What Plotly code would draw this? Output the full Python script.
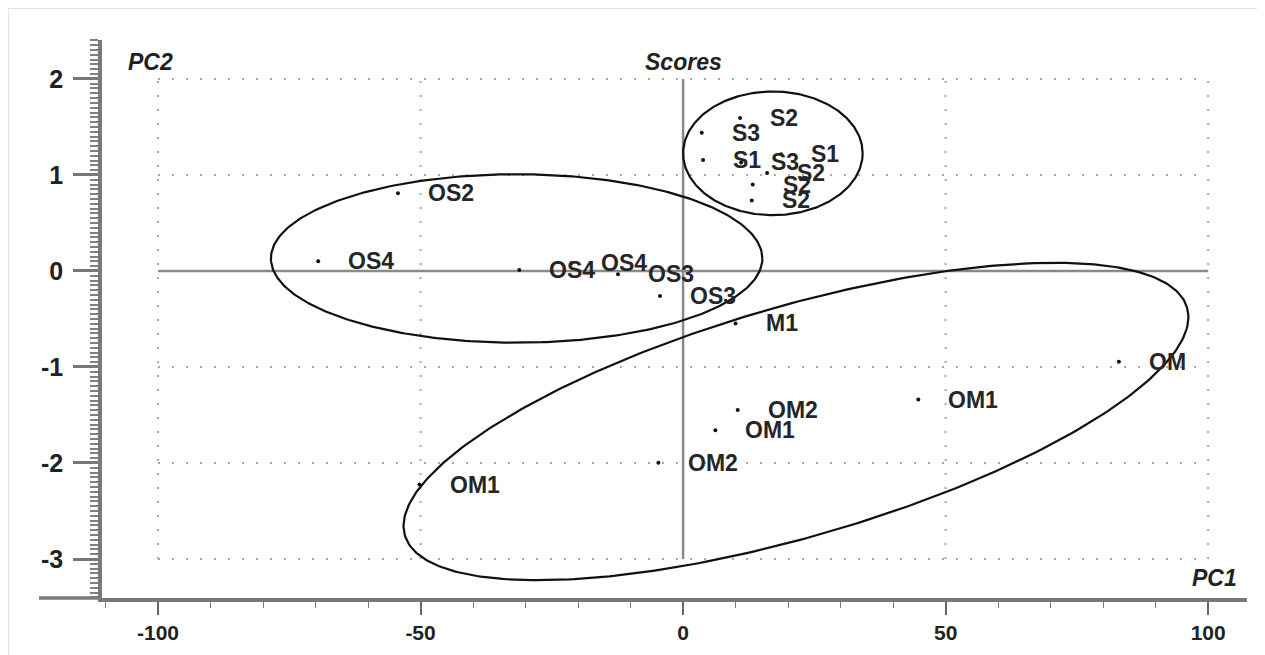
import numpy as np
import plotly.graph_objects as go

# ---- data (scores) ----
labels = ["OS2", "OS4", "OS4", "OS4", "OS3", "OS3", "M1", "OM", "OM1", "OM2",
          "OM1", "OM2", "OM1", "S3", "S1", "S2", "S2", "S2", "S2", "S1", "S3"]
pc1 = [-54.3, -69.5, -31.2, -21.3, -12.4, -4.4, 10.0, 83.0, 44.8, 10.4,
       6.15, -4.7, -50.2, 3.56, 3.81, 10.86, 16.0, 13.27, 13.08, 18.67, 11.05]
pc2 = [0.81, 0.10, 0.01, 0.08, -0.035, -0.26, -0.547, -0.945, -1.34, -1.447,
       -1.66, -1.997, -2.225, 1.44, 1.155, 1.592, 1.021, 0.90, 0.734, 1.215, 1.13]

# group ellipses: centre and two conjugate semi-axis vectors (data units)
ell_cx = [-31.7, 17.1, 21.5]
ell_cy = [0.13, 1.225, -1.568]
ell_ux = [46.8, 17.1, 74.5]
ell_uy = [0.0, 0.0, 1.184]
ell_vx = [0.0, 0.0, -6.0]
ell_vy = [0.877, 0.644, 1.153]

# axis ticks
x_ticks = [-100, -50, 0, 50, 100]
x_ticktext = ["-100", "-50", "0", "50", "100"]
y_ticks = [-3, -2, -1, 0, 1, 2]
y_ticktext = ["-3", "-2", "-1", "0", "1", "2"]

X_RANGE = [-110.67, 107.4]
Y_RANGE = [-3.406, 2.405]

fig = go.Figure()

# dotted grid (only inside the tick span)
grid_col = "#a8a8a8"
for xv in x_ticks:
    if xv != 0:
        fig.add_shape(type="line", x0=xv, x1=xv, y0=min(y_ticks), y1=max(y_ticks),
                      line=dict(color=grid_col, width=2, dash="2px,12px"), layer="below")
for yv in y_ticks:
    if yv != 0:
        fig.add_shape(type="line", x0=min(x_ticks), x1=max(x_ticks), y0=yv, y1=yv,
                      line=dict(color=grid_col, width=2, dash="2px,12px"), layer="below")
# zero lines
fig.add_shape(type="line", x0=0, x1=0, y0=min(y_ticks), y1=max(y_ticks),
              line=dict(color="#8a8a8a", width=2.5), layer="below")
fig.add_shape(type="line", x0=min(x_ticks), x1=max(x_ticks), y0=0, y1=0,
              line=dict(color="#8a8a8a", width=2.5), layer="below")

# ellipses
t = np.linspace(0, 2 * np.pi, 361)
for cx, cy, ux, uy, vx, vy in zip(ell_cx, ell_cy, ell_ux, ell_uy, ell_vx, ell_vy):
    ex = cx + ux * np.cos(t) + vx * np.sin(t)
    ey = cy + uy * np.cos(t) + vy * np.sin(t)
    fig.add_trace(go.Scatter(x=ex, y=ey, mode="lines",
                             line=dict(color="#111111", width=2.2),
                             hoverinfo="skip", showlegend=False))

# points
fig.add_trace(go.Scatter(x=pc1, y=pc2, mode="markers", text=labels,
                         marker=dict(color="#111111", size=4),
                         showlegend=False))

# point labels
for xv, yv, lab in zip(pc1, pc2, labels):
    fig.add_annotation(x=xv, y=yv, text=lab, showarrow=False, xanchor="left",
                       yanchor="middle", xshift=28,
                       font=dict(family="Liberation Sans, Arial", size=23,
                                 color="#262626", weight="bold"))

# axis titles
title_font = dict(family="Liberation Sans, Arial", size=23, color="#222222",
                  style="italic", weight="bold")
fig.add_annotation(x=0, y=2.18, text="Scores", showarrow=False, font=title_font,
                   xanchor="center", yanchor="middle")
fig.add_annotation(x=-101.5, y=2.18, text="PC2", showarrow=False, font=title_font,
                   xanchor="center", yanchor="middle")
fig.add_annotation(x=101.3, y=-3.2, text="PC1", showarrow=False, font=title_font,
                   xanchor="center", yanchor="middle")

# extend x axis line to the left of the y axis
fig.add_shape(type="line", xref="paper", yref="paper", x0=-63 / 1145, x1=0, y0=0, y1=0,
              line=dict(color="#7a7a7a", width=3.5))

# faint frame around the image (left and top edges)
PW, PH = 1145, 558
fig.add_shape(type="line", xref="paper", yref="paper",
              x0=(-94 + 0.5) / PW, x1=(-94 + 0.5) / PW, y0=-57 / PH, y1=1 + 32 / PH,
              line=dict(color="#e2e2e2", width=1))
fig.add_shape(type="line", xref="paper", yref="paper",
              x0=-94 / PW, x1=1 + 18 / PW, y0=1 + (32 - 0.5) / PH, y1=1 + (32 - 0.5) / PH,
              line=dict(color="#e2e2e2", width=1))

fig.update_xaxes(range=X_RANGE, showgrid=False, zeroline=False,
                 showline=True, linecolor="#7a7a7a", linewidth=3.5,
                 tickmode="array", tickvals=x_ticks, ticktext=x_ticktext,
                 ticks="outside", ticklen=13, tickwidth=1.5, tickcolor="#666666",
                 tickfont=dict(family="Liberation Sans, Arial", size=21,
                               color="#222222", weight="bold"),
                 minor=dict(dtick=10, tick0=0, ticks="outside", ticklen=6,
                            tickwidth=1.2, tickcolor="#777777"))
fig.update_yaxes(range=Y_RANGE, showgrid=False, zeroline=False,
                 showline=True, linecolor="#7a7a7a", linewidth=3.5,
                 tickmode="array", tickvals=y_ticks, ticktext=y_ticktext,
                 ticks="outside", ticklen=25, tickwidth=2.5, tickcolor="#777777",
                 ticklabelstandoff=5,
                 tickfont=dict(family="Liberation Sans, Arial", size=25,
                               color="#222222", weight="bold"),
                 minor=dict(dtick=0.05, tick0=0, ticks="outside", ticklen=8,
                            tickwidth=1.8, tickcolor="#808080"))

fig.update_layout(width=1257, height=647,
                  margin=dict(l=94, r=18, t=32, b=57),
                  paper_bgcolor="white", plot_bgcolor="white",
                  showlegend=False)

fig.write_html("out.html")
